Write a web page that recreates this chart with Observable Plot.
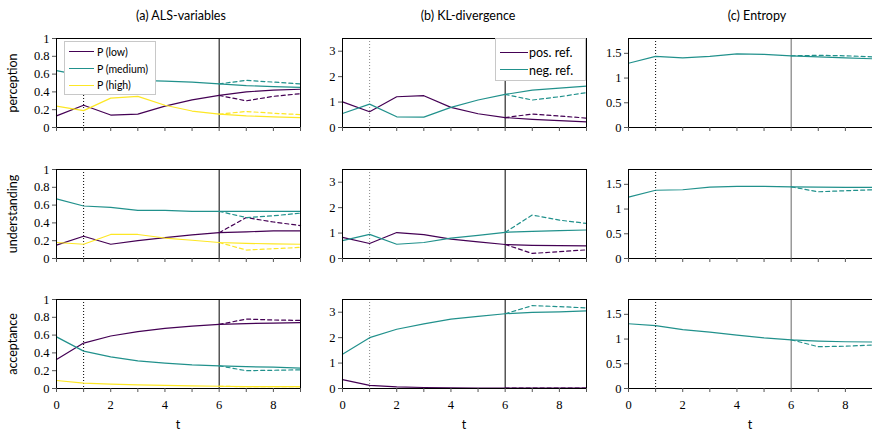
<!DOCTYPE html>
<html>
<head>
<meta charset="utf-8">
<script src="https://cdn.jsdelivr.net/npm/d3@7"></script>
<script src="https://cdn.jsdelivr.net/npm/@observablehq/plot@0.6"></script>
<style>
  body { margin: 0; background: #fff; }
  #root { position: relative; width: 872px; height: 432px; overflow: hidden; background: #fff; font-family: Lato, "Noto Sans", sans-serif; color: #000; }
  .abs { position: absolute; }
  .title { font-size: 12.5px; transform: translate(-50%, -50%); white-space: nowrap; }
  .rowlab { font-size: 12.5px; transform: translate(-50%, -50%) rotate(-90deg); white-space: nowrap; }
  .legend { border: 1px solid #c8c8c8; background: #fff; box-sizing: border-box; }
  .lg-line { position: absolute; height: 0; }
  .lg-text { position: absolute; white-space: nowrap; transform: translateY(-50%); }
  svg { overflow: visible; }
  svg text { font-family: "Liberation Serif", "DejaVu Serif", serif !important; }
</style>
</head>
<body>
<div id="root"></div>
<script>
// time steps
const T = [0, 1, 2, 3, 4, 5, 6, 7, 8, 9];
const TA = [6, 7, 8, 9];

// (a) ALS-variables
const percLow = [0.13, 0.25, 0.14, 0.15, 0.24, 0.31, 0.36, 0.40, 0.42, 0.43];
const percLowAlt = [0.36, 0.30, 0.35, 0.38];
const percMed = [0.64, 0.58, 0.55, 0.53, 0.52, 0.51, 0.49, 0.47, 0.46, 0.45];
const percMedAlt = [0.49, 0.53, 0.51, 0.49];
const percHigh = [0.24, 0.19, 0.33, 0.35, 0.25, 0.185, 0.15, 0.13, 0.12, 0.11];
const percHighAlt = [0.15, 0.18, 0.16, 0.145];

const undLow = [0.15, 0.25, 0.16, 0.20, 0.235, 0.265, 0.29, 0.30, 0.31, 0.31];
const undLowAlt = [0.29, 0.46, 0.41, 0.37];
const undMed = [0.67, 0.59, 0.575, 0.54, 0.54, 0.53, 0.53, 0.53, 0.53, 0.53];
const undMedAlt = [0.53, 0.46, 0.48, 0.51];
const undHigh = [0.18, 0.16, 0.27, 0.27, 0.23, 0.205, 0.18, 0.17, 0.165, 0.16];
const undHighAlt = [0.18, 0.095, 0.11, 0.125];

const accLow = [0.325, 0.51, 0.59, 0.64, 0.675, 0.70, 0.72, 0.73, 0.735, 0.74];
const accLowAlt = [0.72, 0.78, 0.77, 0.765];
const accMed = [0.58, 0.42, 0.355, 0.31, 0.285, 0.265, 0.255, 0.245, 0.24, 0.23];
const accMedAlt = [0.255, 0.20, 0.205, 0.21];
const accHigh = [0.09, 0.06, 0.05, 0.04, 0.035, 0.03, 0.025, 0.02, 0.02, 0.02];
const accHighAlt = [0.025, 0.02, 0.02, 0.02];

// (b) KL-divergence
const klPercPos = [1.01, 0.62, 1.21, 1.25, 0.79, 0.54, 0.39, 0.32, 0.27, 0.22];
const klPercPosAlt = [0.39, 0.53, 0.45, 0.37];
const klPercNeg = [0.55, 0.92, 0.42, 0.41, 0.79, 1.08, 1.30, 1.47, 1.55, 1.63];
const klPercNegAlt = [1.30, 1.08, 1.21, 1.37];
const klUndPos = [0.83, 0.59, 1.02, 0.94, 0.76, 0.65, 0.55, 0.52, 0.51, 0.50];
const klUndPosAlt = [0.55, 0.20, 0.27, 0.34];
const klUndNeg = [0.70, 0.95, 0.56, 0.63, 0.80, 0.91, 1.03, 1.07, 1.10, 1.12];
const klUndNegAlt = [1.03, 1.71, 1.51, 1.38];
const klAccPos = [0.35, 0.12, 0.06, 0.04, 0.03, 0.02, 0.02, 0.02, 0.02, 0.02];
const klAccPosAlt = [0.02, 0.02, 0.02, 0.02];
const klAccNeg = [1.35, 2.00, 2.33, 2.54, 2.73, 2.84, 2.94, 2.99, 3.01, 3.05];
const klAccNegAlt = [2.94, 3.26, 3.22, 3.17];

// (c) Entropy
const entPerc = [1.30, 1.44, 1.41, 1.44, 1.49, 1.48, 1.45, 1.43, 1.41, 1.39];
const entPercAlt = [1.45, 1.46, 1.45, 1.43];
const entUnd = [1.24, 1.38, 1.39, 1.445, 1.46, 1.46, 1.45, 1.445, 1.44, 1.44];
const entUndAlt = [1.45, 1.35, 1.37, 1.39];
const entAcc = [1.31, 1.27, 1.19, 1.14, 1.08, 1.025, 0.985, 0.96, 0.945, 0.94];
const entAccAlt = [0.985, 0.845, 0.855, 0.88];

// labels
const colTitles = ["(a) ALS-variables", "(b) KL-divergence", "(c) Entropy"];
const rowLabels = ["perception", "understanding", "acceptance"];
const legendA = ["P (low)", "P (medium)", "P (high)"];
const legendB = ["pos. ref.", "neg. ref."];
const ticksA = [0, 0.2, 0.4, 0.6, 0.8, 1];
const ticksB = [0, 1, 2, 3];
const ticksC = [0, 0.5, 1, 1.5];

const PURPLE = "#440154", TEAL = "#21918c", YELLOW = "#fde725";

const cols = [
  { left: 56, domain: [0, 1], ticks: ticksA, dot: "#000", solid: "#000", titleX: 181 },
  { left: 342, domain: [0, 3.5], ticks: ticksB, dot: "#888", solid: "#000", titleX: 468 },
  { left: 628, domain: [0, 1.8], ticks: ticksC, dot: "#000", solid: "#666", titleX: 757 }
];
const rows = [38, 169, 299];
const FW = 244, FH = 89;
const ML = 42, MR = 2, MT = 2, MB = 26;

const grid = [
  [
    [{ v: percLow, a: percLowAlt, c: PURPLE }, { v: percMed, a: percMedAlt, c: TEAL }, { v: percHigh, a: percHighAlt, c: YELLOW }],
    [{ v: klPercPos, a: klPercPosAlt, c: PURPLE }, { v: klPercNeg, a: klPercNegAlt, c: TEAL }],
    [{ v: entPerc, a: entPercAlt, c: TEAL }]
  ],
  [
    [{ v: undLow, a: undLowAlt, c: PURPLE }, { v: undMed, a: undMedAlt, c: TEAL }, { v: undHigh, a: undHighAlt, c: YELLOW }],
    [{ v: klUndPos, a: klUndPosAlt, c: PURPLE }, { v: klUndNeg, a: klUndNegAlt, c: TEAL }],
    [{ v: entUnd, a: entUndAlt, c: TEAL }]
  ],
  [
    [{ v: accLow, a: accLowAlt, c: PURPLE }, { v: accMed, a: accMedAlt, c: TEAL }, { v: accHigh, a: accHighAlt, c: YELLOW }],
    [{ v: klAccPos, a: klAccPosAlt, c: PURPLE }, { v: klAccNeg, a: klAccNegAlt, c: TEAL }],
    [{ v: entAcc, a: entAccAlt, c: TEAL }]
  ]
];

const root = document.getElementById("root");
const SERIF = "Liberation Serif";

for (let r = 0; r < 3; r++) {
  for (let c = 0; c < 3; c++) {
    const col = cols[c];
    const marks = [
      Plot.ruleX([1], { stroke: col.dot, strokeWidth: 1, strokeDasharray: "1,2" }),
      Plot.ruleX([6], { stroke: col.solid, strokeWidth: 1 })
    ];
    for (const s of grid[r][c]) {
      marks.push(Plot.line(s.a.map((v, i) => ({ t: TA[i], v })), { x: "t", y: "v", stroke: s.c, strokeWidth: 1.2, strokeDasharray: "4,3" }));
      marks.push(Plot.line(s.v.map((v, i) => ({ t: T[i], v })), { x: "t", y: "v", stroke: s.c, strokeWidth: 1.2 }));
    }
    marks.push(Plot.frame({ stroke: "#000", strokeWidth: 1 }));
    marks.push(Plot.axisY({ ticks: col.ticks, tickSize: 4, tickPadding: 3, tickFormat: d => String(d), label: null, stroke: "#555", fontFamily: SERIF, fontSize: 12.5 }));
    marks.push(Plot.axisX({ ticks: T, tickSize: 4, tickPadding: 8, tickFormat: d => (r === 2 && d % 2 === 0) ? String(d) : "", label: null, stroke: "#555", fontFamily: SERIF, fontSize: 12.5 }));
    const svg = Plot.plot({
      width: ML + FW + MR, height: MT + FH + MB,
      marginLeft: ML, marginRight: MR, marginTop: MT, marginBottom: MB,
      x: { domain: [0, 9] },
      y: { domain: col.domain },
      style: { fontFamily: SERIF, fontSize: "12.5px", background: "transparent", overflow: "visible" },
      marks
    });
    svg.setAttribute("font-family", SERIF);
    svg.style.position = "absolute";
    svg.style.left = (col.left - ML) + "px";
    svg.style.top = (rows[r] - MT) + "px";
    root.appendChild(svg);
  }
}

function addDiv(cls, text, x, y, extra) {
  const d = document.createElement("div");
  d.className = "abs " + cls;
  d.textContent = text;
  d.style.left = x + "px";
  d.style.top = y + "px";
  if (extra) Object.assign(d.style, extra);
  root.appendChild(d);
  return d;
}

colTitles.forEach((t, i) => addDiv("title", t, cols[i].titleX, 15));
rowLabels.forEach((t, i) => addDiv("rowlab", t, 12, rows[i] + FH / 2));
cols.forEach(col => addDiv("title", "t", col.left + FW / 2, 424));

// legend (a)
const lgA = addDiv("legend", "", 64, 41, { width: "92px", height: "54px" });
legendA.forEach((txt, i) => {
  const y = 10 + i * 16.6;
  const ln = document.createElement("div");
  ln.className = "lg-line";
  Object.assign(ln.style, { left: "4px", top: (y - 0.6) + "px", width: "25px", borderTop: "1.2px solid " + [PURPLE, TEAL, YELLOW][i] });
  lgA.appendChild(ln);
  const tx = document.createElement("div");
  tx.className = "lg-text";
  tx.textContent = txt;
  Object.assign(tx.style, { left: "32px", top: y + "px", fontSize: "10.5px" });
  lgA.appendChild(tx);
});

// legend (b)
const lgB = addDiv("legend", "", 495, 38, { width: "91px", height: "43px" });
legendB.forEach((txt, i) => {
  const y = 13.3 + i * 17.4;
  const ln = document.createElement("div");
  ln.className = "lg-line";
  Object.assign(ln.style, { left: "3.5px", top: (y - 0.6) + "px", width: "28px", borderTop: "1.2px solid " + [PURPLE, TEAL][i] });
  lgB.appendChild(ln);
  const tx = document.createElement("div");
  tx.className = "lg-text";
  tx.textContent = txt;
  Object.assign(tx.style, { left: "33px", top: y + "px", fontSize: "12.5px" });
  lgB.appendChild(tx);
});
</script>
</body>
</html>
